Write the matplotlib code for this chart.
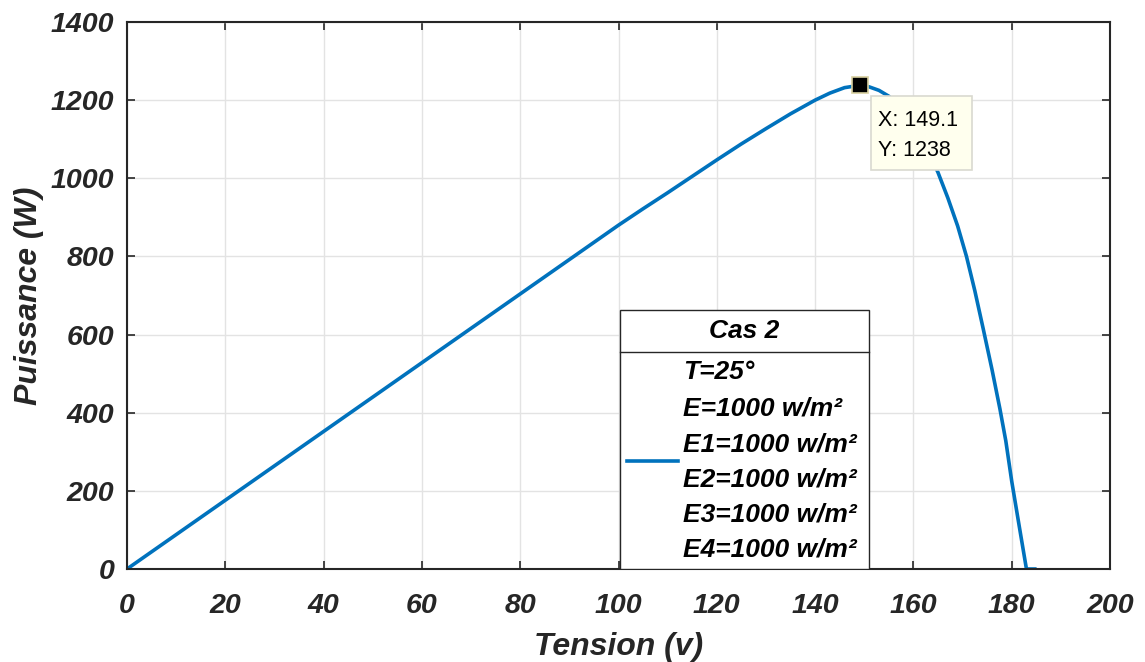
import matplotlib.pyplot as plt
from matplotlib.lines import Line2D
from matplotlib.patches import Rectangle

# courbe P-V (tension en V, puissance en W)
tension = [0, 20, 40, 60, 80, 100, 105, 110, 115, 120, 125, 130, 135, 140,
           143, 146, 149.1, 151, 153, 155, 157, 159, 161, 163, 165, 167,
           169, 170.8, 172.5, 174.2, 176, 177.6, 178.8, 180, 181.5, 183, 184.7]
puissance = [0, 176, 352, 528, 704, 880, 922, 963, 1005, 1047, 1088, 1127, 1165, 1200,
             1218, 1232, 1238, 1234, 1225, 1210, 1188, 1160, 1120, 1070, 1015, 950,
             878, 800, 712, 615, 510, 410, 328, 225, 112, 0, 0]

tip_x, tip_y = 149.1, 1238
legend_title = 'Cas 2'
legend_lines = ['T=25°', 'E=1000 w/m²', 'E1=1000 w/m²', 'E2=1000 w/m²',
                'E3=1000 w/m²', 'E4=1000 w/m²']

plt.rcParams['font.family'] = ['Liberation Sans', 'DejaVu Sans']
dark = '#262626'
blue = '#0072BD'

fig = plt.figure(figsize=(11.45, 6.62), dpi=100)
ax = fig.add_axes([127 / 1145, 1 - 569 / 662, 983 / 1145, 547 / 662])

ax.plot(tension, puissance, color=blue, lw=2.6, solid_joinstyle='round')
ax.set_xlim(0, 200)
ax.set_ylim(0, 1400)
ax.set_xticks(range(0, 201, 20))
ax.set_yticks(range(0, 1401, 200))
ax.grid(True, color='#e3e3e3', lw=1.0)
ax.set_axisbelow(True)
ax.tick_params(direction='in', length=6, width=1.2, colors=dark,
               top=True, right=True, labelsize=20.5)
ax.tick_params(axis='x', pad=17)
ax.tick_params(axis='y', pad=9)
for lab in ax.get_xticklabels() + ax.get_yticklabels():
    lab.set_fontweight('bold')
    lab.set_fontstyle('italic')
for s in ax.spines.values():
    s.set_color(dark)
    s.set_linewidth(1.5)

ax.set_xlabel('Tension (v)', fontsize=23, fontweight='bold', fontstyle='italic',
              color=dark, labelpad=10)
ax.set_ylabel('Puissance (W)', fontsize=23, fontweight='bold', fontstyle='italic',
              color=dark, labelpad=5)

# data tip
ax.plot([tip_x], [tip_y], marker='s', ms=11, mfc='black', mec='#d8d0a0',
        mew=1.2, zorder=5)
tip_box = Rectangle((870.7 / 1145, 1 - 170 / 662), 101 / 1145, 74 / 662,
                    transform=fig.transFigure, facecolor='#ffffee',
                    edgecolor='#d9d9d0', lw=1.2, zorder=6)
fig.patches.append(tip_box)
fig.text(878 / 1145, 1 - 120 / 662, 'X: %.1f' % tip_x, fontsize=15.5,
         va='center', ha='left', color='black', zorder=7)
fig.text(878 / 1145, 1 - 150 / 662, 'Y: %d' % tip_y, fontsize=15.5,
         va='center', ha='left', color='black', zorder=7)

# legende avec titre (style MATLAB)
lx0, lx1, ly0, ly1, lsep = 0.5015, 0.7548, 0.0, 0.4735, 0.3967
ax.add_patch(Rectangle((lx0, ly0), lx1 - lx0, ly1 - ly0, transform=ax.transAxes,
                       facecolor='white', edgecolor=dark, lw=1.0, zorder=4))
ax.add_line(Line2D([lx0, lx1], [lsep, lsep], transform=ax.transAxes,
                   color=dark, lw=1.0, zorder=5))
ax.text((lx0 + lx1) / 2, (ly1 + lsep) / 2, legend_title, transform=ax.transAxes,
        ha='center', va='center', fontsize=19, fontweight='bold',
        fontstyle='italic', color='black', zorder=5)
ax.add_line(Line2D([0.5087, 0.5605], [0.1974, 0.1974], transform=ax.transAxes,
                   color=blue, lw=2.6, zorder=5))
row_y = [0.360, 0.294, 0.227, 0.163, 0.099, 0.035]
for txt, yy in zip(legend_lines, row_y):
    ax.text(0.5656, yy, txt, transform=ax.transAxes, ha='left', va='center',
            fontsize=19, fontweight='bold', fontstyle='italic', color='black',
            zorder=5)

fig.savefig('out.png', dpi=100)
